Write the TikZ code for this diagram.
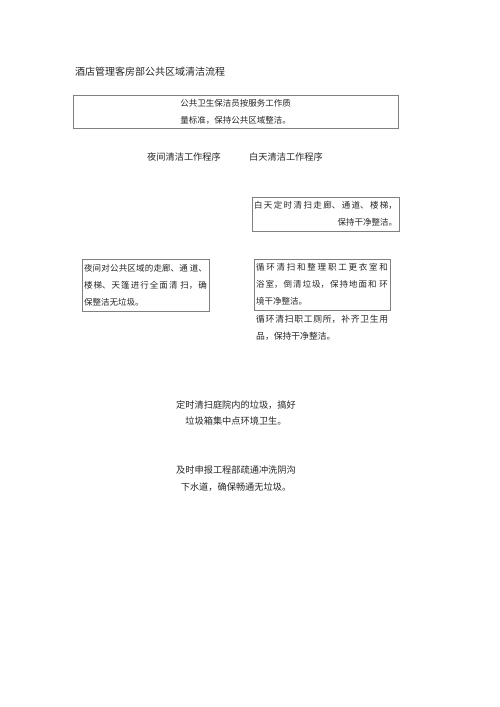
\documentclass[tikz,border=0pt]{standalone}
\usepackage{fontspec}
\setmainfont{Noto Sans CJK SC}
\XeTeXlinebreaklocale "zh"
\XeTeXlinebreakskip=0pt plus 1pt

\begin{document}
\begin{tikzpicture}[x = 1pt, y = -1pt,
    box/.style = {draw = black!50, line width = 0.7pt, inner sep = 2pt, text = black!85, font = \fontsize{8.5}{17}\selectfont},
    txt/.style = {inner sep = 0pt, text = black!85, font = \fontsize{9.2}{16}\selectfont}]
  \useasboundingbox (0,0) rectangle (500,707);
  \node[txt, anchor = west, font = \fontsize{10}{12}\selectfont] (title) at (75,72) {酒店管理客房部公共区域清洁流程};
  \node[box, minimum width = 325pt, minimum height = 33pt, align = center] (duty) at (235.5,111.5) {公共卫生保洁员按服务工作质\\量标准，保持公共区域整洁。};
  \node[txt] (nighthead) at (184,157) {夜间清洁工作程序};
  \node[txt] (dayhead) at (286,157) {白天清洁工作程序};
  \node[box, text width = 143pt, minimum height = 34pt, align = justify] (dayroute) at (325.5,214) {白天定时清扫走廊、通道、楼梯，\linebreak\hspace*{\fill}保持干净整洁。};
  \node[box, text width = 123pt, minimum height = 52pt, align = justify] (night) at (145.5,285) {夜间对公共区域的走廊、通 道、\linebreak 楼梯、天篷进行全面清 扫，确\linebreak 保整洁无垃圾。};
  \node[box, text width = 132pt, minimum height = 51pt, align = justify] (dayroom) at (322,284.5) {循环清扫和整理职工更衣室和\linebreak 浴室，倒清垃圾，保持地面和 环\linebreak 境干净整洁。};
  \node[txt, font = \fontsize{8.8}{16.5}\selectfont, text width = 132pt, align = justify, anchor = north west] (daytoilet) at (256,315) {循环清扫职工厕所，补齐卫生用\linebreak 品，保持干净整洁。};
  \node[txt, align = center] (yard) at (236,413) {定时清扫庭院内的垃圾，搞好\\垃圾箱集中点环境卫生。};
  \node[txt, align = center, font = \fontsize{9.2}{17}\selectfont] (drain) at (236,478.5) {及时申报工程部疏通冲洗阴沟\\下水道，确保畅通无垃圾。};
\end{tikzpicture}
\end{document}
